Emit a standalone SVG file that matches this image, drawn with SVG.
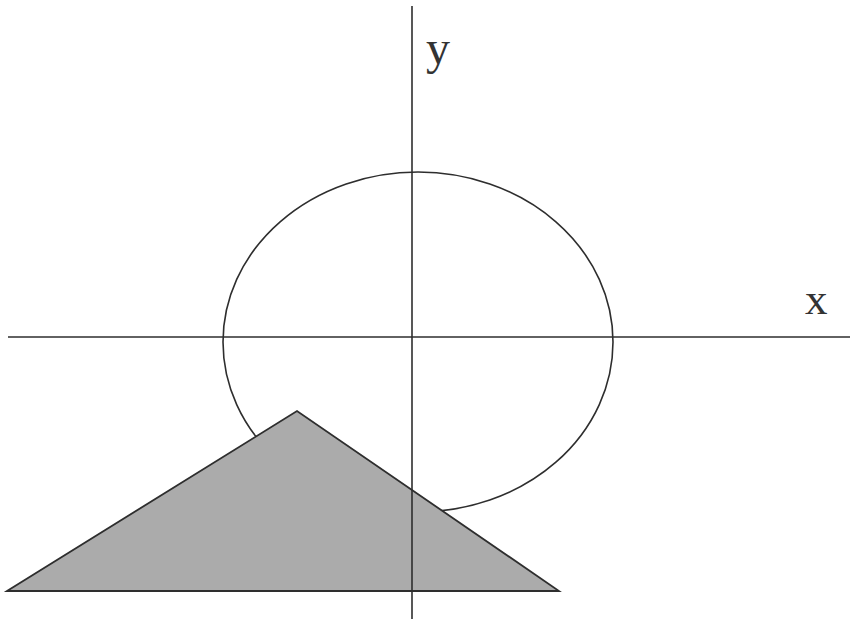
<svg xmlns="http://www.w3.org/2000/svg" width="850" height="619" viewBox="0 0 850 619">
  <style>
    .ln { fill: none; stroke: #2e2e2e; stroke-width: 1.6; }
    .tri { fill: #ababab; stroke: #2e2e2e; stroke-width: 1.8; stroke-linejoin: miter; }
    .lbl { font-family: "Liberation Serif", "Times New Roman", serif; fill: #333333; }
  </style>
  <rect x="0" y="0" width="850" height="619" fill="#ffffff"/>
  <g id="ellipse">
    <ellipse class="ln" cx="418" cy="342" rx="195" ry="170"/>
  </g>
  <g id="triangle">
    <polygon class="tri" points="7,591 297,411 559,591"/>
  </g>
  <g id="axes">
    <line id="x-axis" class="ln" x1="8" y1="337" x2="850" y2="337"/>
    <line id="y-axis" class="ln" x1="412" y1="6" x2="412" y2="619"/>
  </g>
  <g id="labels">
    <text class="lbl" x="426" y="64" font-size="48">y</text>
    <text class="lbl" x="805" y="314" font-size="45">x</text>
  </g>
</svg>
